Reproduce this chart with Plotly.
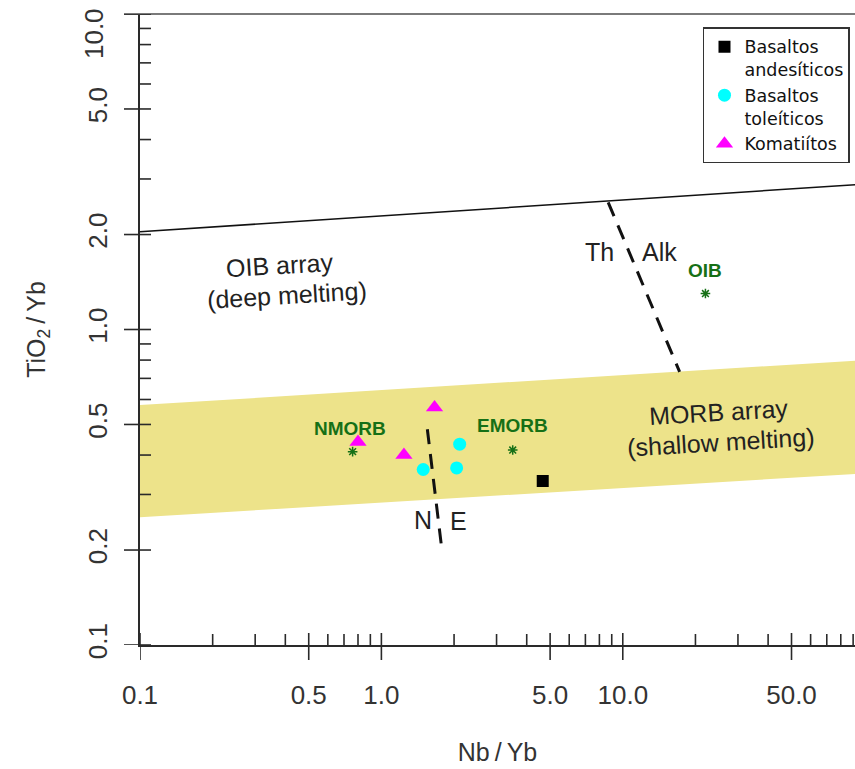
import math
import plotly.graph_objects as go

# ---- sample data (Nb/Yb, TiO2/Yb) ----
and_nb = [4.66]
and_ti = [0.331]
tol_nb = [1.49, 2.11, 2.05]
tol_ti = [0.360, 0.433, 0.364]
kom_nb = [0.80, 1.24, 1.66]
kom_ti = [0.440, 0.400, 0.566]

# ---- reference compositions ----
ref_names = ["NMORB", "EMORB", "OIB"]
ref_nb = [0.76, 3.50, 22.0]
ref_ti = [0.41, 0.415, 1.30]
ref_label_nb = [0.74, 3.50, 22.0]
ref_label_ti = [0.487, 0.498, 1.543]

# ---- discrimination fields ----
morb_nb = [0.1, 100, 100, 0.1]
morb_ti = [0.576, 0.80, 0.35, 0.254]
oib_nb = [0.1, 100]
oib_ti = [2.04, 2.89]
thalk_nb = [8.7, 17.2]
thalk_ti = [2.53, 0.734]
ne_nb = [1.55, 1.78]
ne_ti = [0.483, 0.201]

# field labels: (text, Nb/Yb, TiO2/Yb, angle)
field_text = ["OIB array", "(deep melting)", "MORB array", "(shallow melting)",
              "Th", "Alk", "N", "E"]
field_nb = [0.379, 0.405, 24.8, 25.6, 8.03, 14.26, 1.49, 2.08]
field_ti = [1.60, 1.285, 0.548, 0.4405, 1.763, 1.763, 0.2487, 0.247]
field_ang = [-3.4, -3.4, -3.4, -3.4, 0, 0, 0, 0]

# ---- axis ticks ----
x_major = [0.1, 0.5, 1, 5, 10, 50]
x_major_txt = ["0.1", "0.5", "1.0", "5.0", "10.0", "50.0"]
x_minor = [0.2, 0.3, 0.4, 0.6, 0.7, 0.8, 0.9, 2, 3, 4, 6, 7, 8, 9,
           20, 30, 40, 60, 70, 80, 90]
y_major = [0.1, 0.2, 0.5, 1, 2, 5, 10]
y_major_txt = ["0.1", "0.2", "0.5", "1.0", "2.0", "5.0", "10.0"]
y_minor = [0.3, 0.4, 0.6, 0.7, 0.8, 0.9, 3, 4, 6, 7, 8, 9]

AX = "#2a2a2a"
TXT = "#222222"
TICKTXT = "#333333"
GREEN = "#167016"
FONT = "Liberation Sans, Arial, sans-serif"
TICKSIZE = 26

fig = go.Figure()

# MORB array band
fig.add_trace(go.Scatter(x=morb_nb, y=morb_ti, mode="lines", fill="toself",
                         fillcolor="#EDE38A", line=dict(width=0),
                         hoverinfo="skip", showlegend=False))
# upper OIB boundary
fig.add_trace(go.Scatter(x=oib_nb, y=oib_ti, mode="lines",
                         line=dict(color="#111111", width=1.6),
                         hoverinfo="skip", showlegend=False))
# Th / Alk divide
fig.add_trace(go.Scatter(x=thalk_nb, y=thalk_ti, mode="lines",
                         line=dict(color="#111111", width=3, dash="15px,10px"),
                         hoverinfo="skip", showlegend=False))
# N / E divide
fig.add_trace(go.Scatter(x=ne_nb, y=ne_ti, mode="lines",
                         line=dict(color="#111111", width=3, dash="15px,10px"),
                         hoverinfo="skip", showlegend=False))

# reference compositions
fig.add_trace(go.Scatter(x=ref_nb, y=ref_ti, mode="markers",
                         marker=dict(symbol="asterisk-open", size=8, color=GREEN,
                                     line=dict(color=GREEN, width=1.5)),
                         showlegend=False))

# samples
fig.add_trace(go.Scatter(x=and_nb, y=and_ti, mode="markers",
                         name="Basaltos<br>andesíticos",
                         marker=dict(symbol="square", size=12, color="black")))
fig.add_trace(go.Scatter(x=tol_nb, y=tol_ti, mode="markers",
                         name="Basaltos<br>toleíticos",
                         marker=dict(symbol="circle", size=13, color="#00FFFF")))
fig.add_trace(go.Scatter(x=kom_nb, y=kom_ti, mode="markers",
                         name="Komatiítos",
                         marker=dict(symbol="triangle-up", size=15, color="#FF00FF")))

annotations = []
for t, xv, yv, a in zip(field_text, field_nb, field_ti, field_ang):
    annotations.append(dict(x=math.log10(xv), y=math.log10(yv), xref="x", yref="y",
                            text=t, showarrow=False, textangle=a,
                            font=dict(family=FONT, size=25, color=TXT)))
for t, xv, yv in zip(ref_names, ref_label_nb, ref_label_ti):
    annotations.append(dict(x=math.log10(xv), y=math.log10(yv), xref="x", yref="y",
                            text="<b>" + t + "</b>", showarrow=False,
                            font=dict(family=FONT, size=19, color=GREEN)))
# the top y tick label sits just inside the page
annotations.append(dict(x=-0.0643, y=1, xref="paper", yref="paper",
                        xanchor="center", yanchor="middle",
                        text=y_major_txt[-1], showarrow=False, textangle=-90,
                        yshift=-20, font=dict(family=FONT, size=TICKSIZE, color=TICKTXT)))

shapes = []
# top frame line
shapes.append(dict(type="line", yref="paper", xref="paper", y0=1, y1=1,
                   xsizemode="pixel", xanchor=0, x0=-16, x1=720,
                   line=dict(color="#7a7a7a", width=2)))
# x ticks: majors cross the axis, minors point inward
for v in x_major:
    shapes.append(dict(type="line", xref="x", yref="paper", x0=v, x1=v,
                       ysizemode="pixel", yanchor=0, y0=-15, y1=12,
                       line=dict(color=AX, width=1.6)))
for v in x_minor:
    shapes.append(dict(type="line", xref="x", yref="paper", x0=v, x1=v,
                       ysizemode="pixel", yanchor=0, y0=0, y1=11,
                       line=dict(color=AX, width=1.6)))
for v in y_major:
    shapes.append(dict(type="line", yref="y", xref="paper", y0=v, y1=v,
                       xsizemode="pixel", xanchor=0, x0=-16, x1=11,
                       line=dict(color=AX, width=1.6)))
for v in y_minor:
    shapes.append(dict(type="line", yref="y", xref="paper", y0=v, y1=v,
                       xsizemode="pixel", xanchor=0, x0=0, x1=11,
                       line=dict(color=AX, width=1.6)))

fig.update_layout(
    width=855, height=769,
    margin=dict(l=140, r=0, t=14, b=124),
    paper_bgcolor="white", plot_bgcolor="white",
    font=dict(family=FONT, color=TXT),
    xaxis=dict(type="log", range=[-1, 1.962], showgrid=False, zeroline=False,
               showline=True, linecolor=AX, linewidth=2,
               tickmode="array", tickvals=x_major, ticktext=x_major_txt,
               ticks="", ticklabelstandoff=26,
               tickfont=dict(family=FONT, size=TICKSIZE, color=TICKTXT),
               title=dict(text="Nb\u2009/\u2009Yb", standoff=34,
                          font=dict(family=FONT, size=25, color=TICKTXT))),
    yaxis=dict(type="log", range=[-1, 1], showgrid=False, zeroline=False,
               showline=True, linecolor=AX, linewidth=2,
               tickmode="array", tickvals=y_major[:-1], ticktext=y_major_txt[:-1],
               ticks="", tickangle=-90, ticklabelstandoff=21,
               tickfont=dict(family=FONT, size=TICKSIZE, color=TICKTXT),
               title=dict(text="TiO<sub>2</sub>\u2009/\u2009Yb", standoff=30,
                          font=dict(family=FONT, size=25, color=TICKTXT))),
    legend=dict(x=0.993, y=0.979, xanchor="right", yanchor="top",
                bgcolor="white", bordercolor="#333333", borderwidth=1.5,
                font=dict(family="DejaVu Sans, sans-serif", size=17.5, color="#111111"),
                valign="top", tracegroupgap=0),
    annotations=annotations,
    shapes=shapes,
)

fig.write_html("out.html")
